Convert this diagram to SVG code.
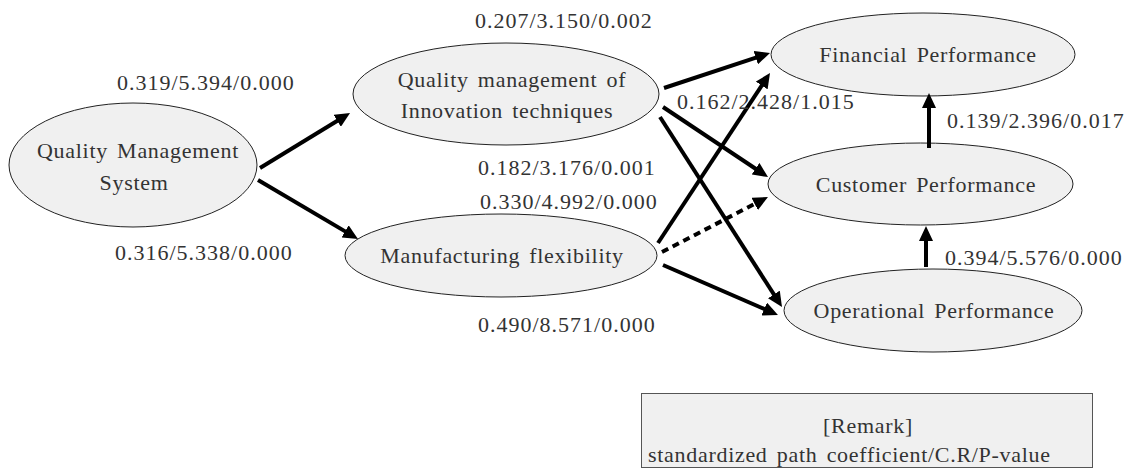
<svg xmlns="http://www.w3.org/2000/svg" width="1132" height="474" viewBox="0 0 1132 474">
<style>
.node ellipse{fill:#f0f0f0;stroke:#222;stroke-width:1}
text{font-family:"Liberation Serif","Times New Roman",serif;font-size:22px;fill:#333;letter-spacing:1px}
.node text,#remark text{letter-spacing:0.7px;word-spacing:3px}
.c{text-anchor:middle}
.conn line{stroke:#000;stroke-width:4;fill:none}
.dash{stroke-dasharray:7 5}
</style>
<defs>
<marker id="ah" viewBox="0 0 15 14" refX="5" refY="7" markerWidth="15" markerHeight="14" markerUnits="userSpaceOnUse" orient="auto">
<path d="M0,0 L15,7 L0,14 z" fill="#000"/>
</marker>
</defs>
<rect width="1132" height="474" fill="#fff"/>
<g id="qms" class="node">
<ellipse cx="133" cy="165" rx="124" ry="62"/>
<text class="c" x="138" y="158">Quality Management</text>
<text class="c" x="134" y="190">System</text>
</g>
<g id="qmit" class="node">
<ellipse cx="506" cy="94" rx="153" ry="51"/>
<text class="c" x="512" y="87">Quality management of</text>
<text class="c" x="507" y="118">Innovation techniques</text>
</g>
<g id="mf" class="node">
<ellipse cx="501" cy="255.5" rx="156" ry="41.5"/>
<text class="c" x="502" y="263">Manufacturing flexibility</text>
</g>
<g id="fin" class="node">
<ellipse cx="923" cy="54.5" rx="152" ry="41.5"/>
<text class="c" x="928" y="62">Financial Performance</text>
</g>
<g id="cus" class="node">
<ellipse cx="920.5" cy="184" rx="152.5" ry="41"/>
<text class="c" x="926" y="192">Customer Performance</text>
</g>
<g id="ops" class="node">
<ellipse cx="933" cy="310.5" rx="149" ry="41.5"/>
<text class="c" x="934" y="318">Operational Performance</text>
</g>
<g id="connectors" class="conn">
<line x1="260" y1="168" x2="341.5" y2="118.2" marker-end="url(#ah)"/>
<line x1="258" y1="180" x2="349.4" y2="233.9" marker-end="url(#ah)"/>
<line x1="664" y1="88" x2="760.5" y2="56.1" marker-end="url(#ah)"/>
<line x1="663" y1="107" x2="759.7" y2="171.5" marker-end="url(#ah)"/>
<line x1="660" y1="117" x2="776.6" y2="298.6" marker-end="url(#ah)"/>
<line x1="658" y1="243" x2="764.5" y2="81.3" marker-end="url(#ah)"/>
<line class="dash" x1="662" y1="252" x2="759.1" y2="201.6" marker-end="url(#ah)"/>
<line x1="663" y1="265" x2="768.8" y2="311" marker-end="url(#ah)"/>
<line x1="929" y1="148" x2="929" y2="103" marker-end="url(#ah)"/>
<line x1="926" y1="267" x2="926" y2="236" marker-end="url(#ah)"/>
</g>
<g id="labels">
<text x="475" y="28">0.207/3.150/0.002</text>
<text x="117" y="90">0.319/5.394/0.000</text>
<text x="677" y="109">0.162/2.428/1.015</text>
<text x="478" y="175">0.182/3.176/0.001</text>
<text x="480" y="209">0.330/4.992/0.000</text>
<text x="115" y="260">0.316/5.338/0.000</text>
<text x="478" y="332">0.490/8.571/0.000</text>
<text x="947" y="128">0.139/2.396/0.017</text>
<text x="945" y="265">0.394/5.576/0.000</text>
</g>
<g id="remark">
<rect x="641.5" y="393.5" width="451" height="74" fill="#f0f0f0" stroke="#555" stroke-width="1"/>
<text class="c" x="868" y="433">[Remark]</text>
<text x="648" y="462">standardized path coefficient/C.R/P-value</text>
</g>
</svg>
